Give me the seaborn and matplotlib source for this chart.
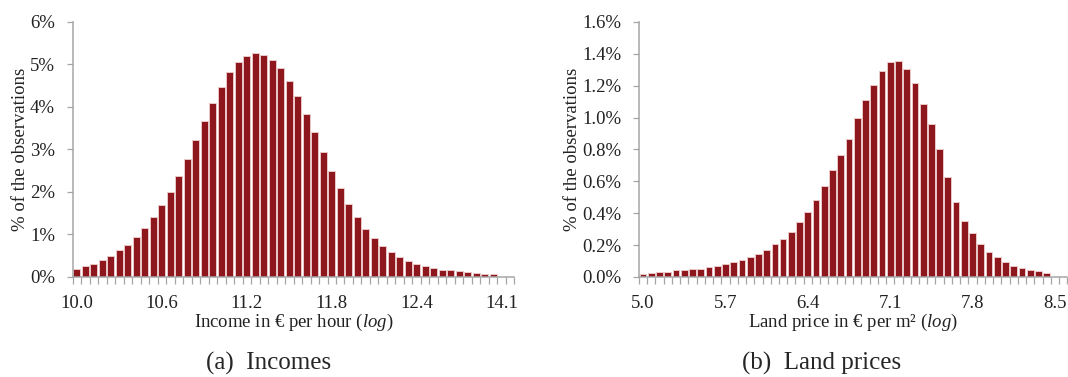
import numpy as np
import matplotlib
matplotlib.use("Agg")
import matplotlib.pyplot as plt
import seaborn as sns
from matplotlib.ticker import FuncFormatter

# share of observations per bin (%)
income_pct = [0.19, 0.25, 0.31, 0.40, 0.49, 0.63, 0.76, 0.94, 1.16, 1.40,
              1.69, 2.01, 2.38, 2.78, 3.22, 3.66, 4.10, 4.47, 4.82, 5.05,
              5.20, 5.27, 5.23, 5.11, 4.91, 4.62, 4.25, 3.84, 3.40, 2.94,
              2.50, 2.09, 1.72, 1.40, 1.14, 0.91, 0.74, 0.59, 0.46, 0.38,
              0.31, 0.25, 0.20, 0.17, 0.16, 0.14, 0.12, 0.09, 0.08, 0.06]
land_pct = [0.021, 0.025, 0.029, 0.034, 0.042, 0.044, 0.048, 0.052, 0.061, 0.067,
            0.080, 0.092, 0.109, 0.128, 0.147, 0.170, 0.205, 0.237, 0.285, 0.343,
            0.410, 0.480, 0.570, 0.674, 0.764, 0.865, 0.999, 1.112, 1.204, 1.294,
            1.351, 1.353, 1.303, 1.215, 1.085, 0.963, 0.800, 0.626, 0.469, 0.354,
            0.274, 0.209, 0.159, 0.124, 0.096, 0.071, 0.057, 0.042, 0.040, 0.027]

income_labels = ["10.0", "10.6", "11.2", "11.8", "12.4", "14.1"]
land_labels = ["5.0", "5.7", "6.4", "7.1", "7.8", "8.5"]
n_bins = 52  # two empty bins at the end of each axis

sns.set_style("white")
plt.rcParams["font.family"] = ["Liberation Serif", "DejaVu Serif"]
plt.rcParams["mathtext.fontset"] = "custom"
plt.rcParams["mathtext.rm"] = "Liberation Serif"
plt.rcParams["mathtext.it"] = "Liberation Serif:italic"

bar_color = "#8E171D"
edge_color = "#EBC8C8"
axis_gray = "#A6A6A6"
txt = "#222222"

fig = plt.figure(figsize=(10.68, 3.77), dpi=100)
ax1 = fig.add_axes([0.0681, 0.2653, 0.4135, 0.6764])
ax2 = fig.add_axes([0.5983, 0.2653, 0.4010, 0.6764])


def draw(ax, vals, labels, ymax, ystep, fmt, xlabel, ylab_x):
    sns.barplot(x=np.arange(len(vals)), y=vals, ax=ax, color=bar_color,
                saturation=1, width=0.82, edgecolor=edge_color, linewidth=0.7)
    ax.set_xlim(-0.5, n_bins - 0.5)
    ax.set_ylim(0, ymax)
    ax.set_yticks(np.arange(0, ymax + ystep / 2, ystep))
    ax.yaxis.set_major_formatter(FuncFormatter(fmt))
    # ticks between bins, labels every 10 bins
    ax.set_xticks(np.arange(-0.5, n_bins, 1))
    ax.set_xticklabels([])
    ax.set_xticks(np.arange(0, n_bins, 10), minor=True)
    ax.set_xticklabels(labels, minor=True)
    ax.tick_params(axis="x", which="major", length=5, width=0.9, color=axis_gray,
                   direction="out", bottom=True)
    ax.tick_params(axis="x", which="minor", length=0, pad=13, labelsize=13.5,
                   labelcolor=txt)
    ax.tick_params(axis="y", length=4.3, width=0.9, color=axis_gray, left=True,
                   direction="out", labelsize=13.5, labelcolor=txt, pad=8.5)
    sns.despine(ax=ax)
    for s in ["left", "bottom"]:
        ax.spines[s].set_color(axis_gray)
        ax.spines[s].set_linewidth(1.1)
    ax.set_xlabel(xlabel, fontsize=13.5, color=txt, va="top")
    ax.xaxis.set_label_coords(0.5, -0.135)
    ax.set_ylabel("% of the observations", fontsize=13.5, color=txt)
    ax.yaxis.set_label_coords(ylab_x, 0.5)


draw(ax1, income_pct, income_labels, 6, 1, lambda v, p: f"{v:.0f}%",
     r"Income in € per hour $\mathit{(log)}$", -0.100)
draw(ax2, land_pct, land_labels, 1.6, 0.2, lambda v, p: f"{v:.1f}%",
     r"Land price in € per m² $\mathit{(log)}$", -0.136)

fig.text(0.251, 0.037, "(a)  Incomes", fontsize=18, ha="center", va="center",
         family="Liberation Serif")
fig.text(0.769, 0.037, "(b)  Land prices", fontsize=18, ha="center", va="center",
         family="Liberation Serif")

fig.savefig("out.png", dpi=100)
